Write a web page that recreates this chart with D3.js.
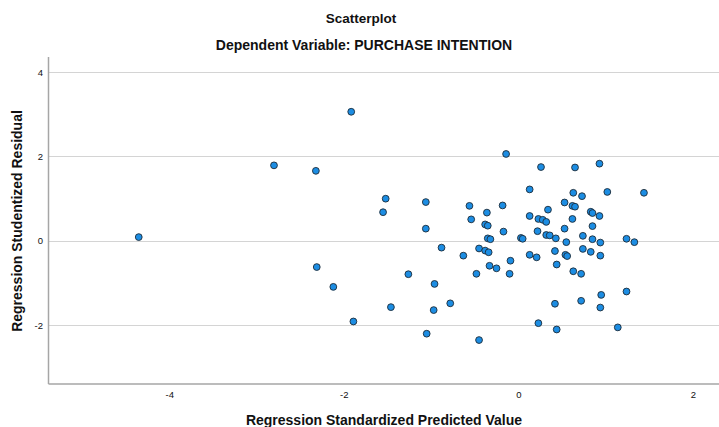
<!DOCTYPE html>
<html>
<head>
<meta charset="utf-8">
<script src="https://cdn.jsdelivr.net/npm/d3@7"></script>
<style>
  body { margin: 0; background: #fff; }
  text { font-family: "Liberation Sans", Arial, sans-serif; fill: #111; }
</style>
</head>
<body>
<div id="chart"></div>
<script>
var width = 719,
    height = 427

// predicted value (x) and studentized residual (y)
const predicted = [-4.35, -2.80, -2.32, -1.915, -1.52, -1.55, -2.31, -2.12, -1.26, -1.46,
  -1.89, -0.14, 0.26, 0.13, -1.06, -0.56, -0.18, 0.34, -0.36, -0.54,
  0.13, 0.23, 0.28, 0.32, -0.38, -0.35, -1.06, -0.17, 0.22, 0.32,
  0.36, -0.35, -0.32, 0.03, 0.05, -0.88, -0.63, -0.45, -0.38, -0.34,
  0.13, 0.21, -0.09, -0.33, -0.25, -0.48, -0.10, -0.96, -0.78, -0.97,
  0.23, -1.05, -0.45, 0.65, 0.93, 0.63, 0.73, 1.02, 1.44, 0.53,
  0.62, 0.65, 0.83, 0.85, 0.93, 0.62, 0.85, 0.53, 0.43, 0.74,
  0.85, 0.55, 0.94, 1.24, 1.33, 0.42, 0.54, 0.56, 0.74, 0.83,
  0.94, 0.44, 0.63, 0.72, 0.95, 1.24, 0.42, 0.72, 0.94, 0.44, 1.14]
const residual = [0.09, 1.79, 1.66, 3.06, 1.00, 0.68, -0.62, -1.09, -0.79, -1.57,
  -1.91, 2.06, 1.75, 1.22, 0.92, 0.83, 0.84, 0.74, 0.67, 0.51,
  0.59, 0.52, 0.50, 0.45, 0.39, 0.36, 0.29, 0.22, 0.23, 0.14,
  0.13, 0.06, 0.04, 0.07, 0.05, -0.16, -0.35, -0.18, -0.23, -0.27,
  -0.33, -0.39, -0.47, -0.59, -0.65, -0.78, -0.78, -1.02, -1.48, -1.64,
  -1.95, -2.20, -2.35, 1.74, 1.83, 1.14, 1.06, 1.16, 1.14, 0.91,
  0.83, 0.81, 0.69, 0.66, 0.59, 0.52, 0.35, 0.29, 0.06, 0.12,
  0.04, -0.03, -0.04, 0.05, -0.03, -0.24, -0.33, -0.36, -0.19, -0.26,
  -0.35, -0.56, -0.72, -0.78, -1.28, -1.20, -1.49, -1.42, -1.58, -2.10, -2.05]

const xTicks = [-4, -2, 0, 2]
const yTicks = [-2, 0, 2, 4]

const points = predicted.map((v, i) => ({ x: v, y: residual[i] }))

var svg = d3.select('#chart')
  .append('svg')
  .attr('width', width)
  .attr('height', height)

const x = d3.scaleLinear().domain([-5.39, 2.30]).range([48, 719])
const y = d3.scaleLinear().domain([-3.38, 4.37]).range([383.5, 56.5])

// horizontal grid lines
svg.append('g')
  .selectAll('line')
  .data(yTicks)
  .enter().append('line')
  .attr('x1', x.range()[0])
  .attr('x2', x.range()[1])
  .attr('y1', d => Math.round(y(d)) + 0.5)
  .attr('y2', d => Math.round(y(d)) + 0.5)
  .attr('stroke', '#d4d4d4')
  .attr('stroke-width', 1.2)

// axes, drawn with d3 but without tick marks
const xAxis = svg.append('g')
  .attr('transform', 'translate(0,' + y.range()[0] + ')')
  .call(d3.axisBottom(x).tickValues(xTicks).tickSize(0).tickPadding(8).tickFormat(d3.format('d')))
const yAxis = svg.append('g')
  .attr('transform', 'translate(' + x.range()[0] + ',0)')
  .call(d3.axisLeft(y).tickValues(yTicks).tickSize(0).tickPadding(5).tickFormat(d3.format('d')))

;[xAxis, yAxis].forEach(function (g) {
  g.select('.domain').attr('stroke', '#a6a6a6').attr('stroke-width', 1.5)
  g.selectAll('text')
    .style('font-family', '"Liberation Sans", Arial, sans-serif')
    .style('font-size', '9.5px')
    .attr('fill', '#222')
})
// minus signs look like hyphens in the original
svg.selectAll('.tick text').text(d => String(d))

// points
svg.append('g')
  .selectAll('circle')
  .data(points)
  .enter().append('circle')
  .attr('cx', d => x(d.x))
  .attr('cy', d => y(d.y))
  .attr('r', 3.4)
  .attr('fill', '#1c8de3')
  .attr('stroke', '#1d2b38')
  .attr('stroke-width', 0.9)

// titles
svg.append('text')
  .attr('x', 361).attr('y', 23)
  .attr('text-anchor', 'middle')
  .style('font-size', '13.5px').style('font-weight', 'bold')
  .text('Scatterplot')

svg.append('text')
  .attr('x', 364).attr('y', 50)
  .attr('text-anchor', 'middle')
  .style('font-size', '14px').style('font-weight', 'bold')
  .text('Dependent Variable: PURCHASE INTENTION')

svg.append('text')
  .attr('x', 384).attr('y', 425)
  .attr('text-anchor', 'middle')
  .style('font-size', '14px').style('font-weight', 'bold')
  .text('Regression Standardized Predicted Value')

svg.append('text')
  .attr('transform', 'translate(22,221)rotate(-90)')
  .attr('text-anchor', 'middle')
  .style('font-size', '14px').style('font-weight', 'bold')
  .text('Regression Studentized Residual')
</script>
</body>
</html>
